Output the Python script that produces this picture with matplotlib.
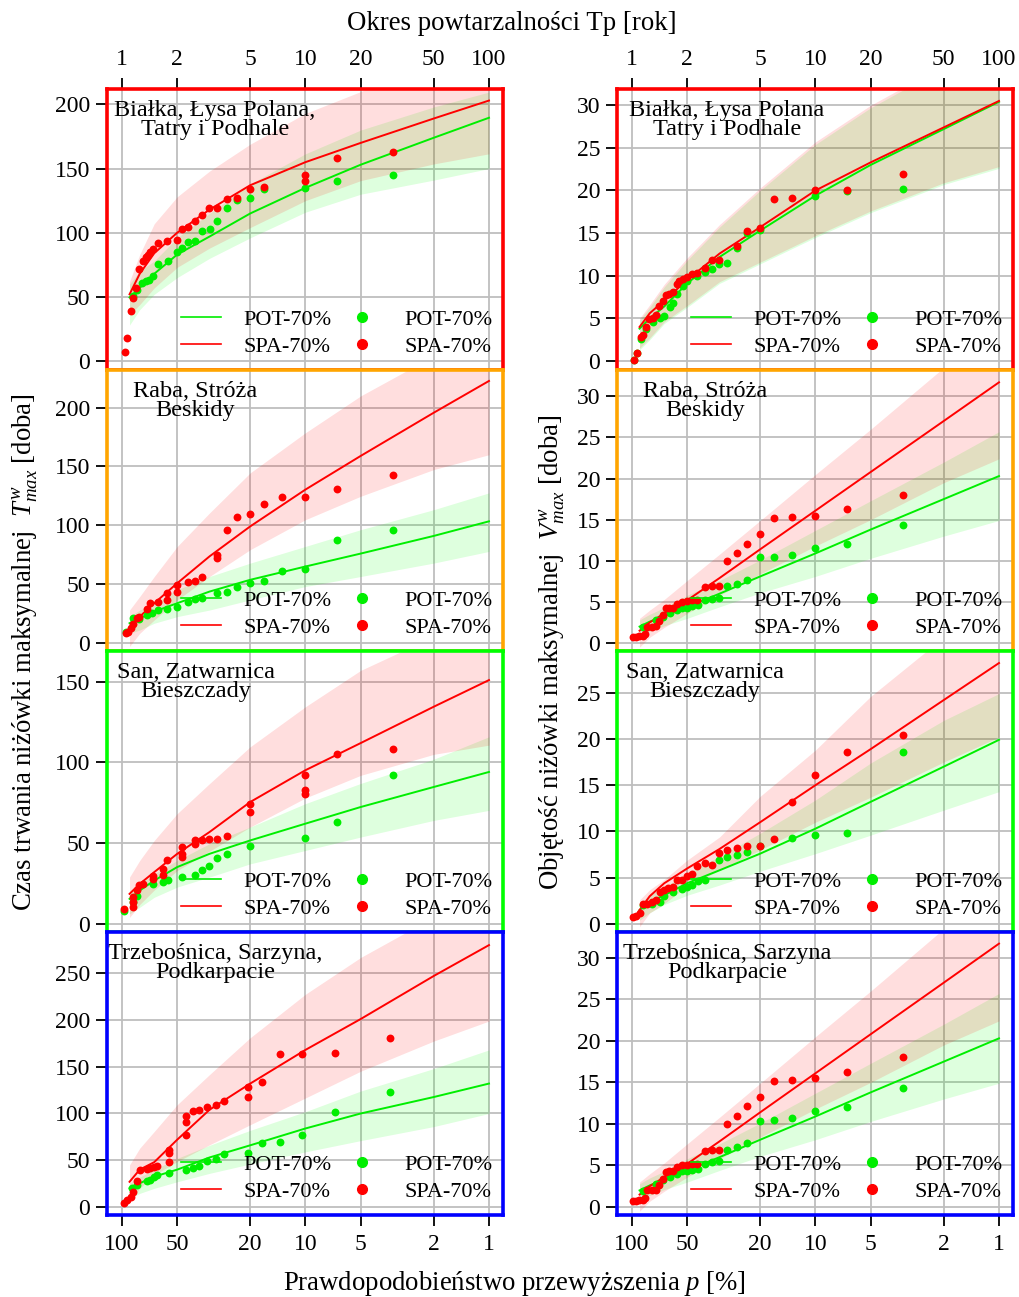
import matplotlib
matplotlib.use('Agg')
import matplotlib.pyplot as plt
from matplotlib.lines import Line2D

plt.rcParams['font.family'] = ['Liberation Serif', 'DejaVu Serif']
plt.rcParams['mathtext.fontset'] = 'custom'
plt.rcParams['mathtext.rm'] = 'Liberation Serif'
plt.rcParams['mathtext.it'] = 'Liberation Serif:italic'

# okresy powtarzalnosci dla krzywych (T, lata)
T_fit = [1.1, 1.25, 1.5, 2, 3, 5, 10, 20, 50, 100]
T_ticks = [1, 2, 5, 10, 20, 50, 100]
top_labels = ['1', '2', '5', '10', '20', '50', '100']
bottom_labels = ['100', '50', '20', '10', '5', '2', '1']

# --- Bialka, Lysa Polana : czas trwania
bialka_T_spa_x = [1.04, 1.07, 1.12, 1.15, 1.20, 1.24, 1.31, 1.35, 1.39, 1.43, 1.48, 1.58, 1.75, 2.0,
                  2.12, 2.3, 2.5, 2.72, 2.99, 3.31, 3.75, 4.22, 4.98, 5.96, 9.94, 9.94, 14.9, 29.8]
bialka_T_spa_y = [7.3, 17.7, 39.1, 49.5, 56.8, 72.1, 78.1, 80.7, 82.8, 84.6, 87.2, 91.9, 93.8, 94.3,
                  102.9, 104.2, 108.9, 114.1, 119.0, 119.0, 126.3, 127.1, 134.1, 135.9, 140.1, 144.8, 158.6, 162.8]
bialka_T_pot_x = [1.15, 1.21, 1.28, 1.35, 1.41, 1.48, 1.58, 1.79, 2.0, 2.12, 2.3, 2.5, 2.72, 3.0,
                  3.31, 3.75, 4.22, 4.98, 5.96, 9.94, 14.9, 29.8]
bialka_T_pot_y = [50.8, 55.2, 60.7, 62.0, 63.0, 66.4, 75.5, 78.1, 84.6, 87.8, 93.0, 93.8, 101.0, 102.9,
                  109.4, 119.3, 125.8, 127.1, 134.1, 134.9, 140.6, 145.3]
bialka_T_spa_fit = [52, 68, 84, 100, 118, 137, 155, 170, 189, 203]
bialka_T_spa_lo = [36, 44, 57, 73, 88, 104, 125, 140.6, 153.6, 161.5]
bialka_T_spa_hi = [62, 83, 107, 128, 148, 169, 193, 210, 235, 250]
bialka_T_pot_fit = [49.5, 57, 68, 83, 97, 115, 135, 153, 174, 189.6]
bialka_T_pot_lo = [28, 40, 52, 65, 80, 96, 116, 130, 141, 150]
bialka_T_pot_hi = [60, 70, 78, 96, 115, 138, 161.5, 180, 198, 209.6]

# --- Bialka, Lysa Polana : objetosc
bialka_V_spa_x = [1.025, 1.06, 1.115, 1.143, 1.192, 1.243, 1.296, 1.351, 1.409, 1.469, 1.532, 1.597,
                  1.665, 1.751, 1.811, 1.888, 1.984, 2.115, 2.271, 2.5, 2.717, 2.99, 3.75, 4.22, 4.98,
                  5.96, 7.43, 9.94, 14.9, 29.8]
bialka_V_spa_y = [0.1, 0.9, 2.8, 3.0, 4.0, 4.9, 5.1, 5.4, 6.5, 7.0, 7.7, 7.9, 8.1, 9.0, 9.4, 9.6, 9.9,
                  10.2, 10.3, 10.9, 11.8, 11.9, 13.5, 15.2, 15.6, 19.0, 19.1, 20.0, 20.1, 21.9]
bialka_V_pot_x = [1.025, 1.06, 1.115, 1.192, 1.296, 1.421, 1.494, 1.611, 1.665, 1.751, 1.888, 2.0,
                  2.271, 2.5, 2.717, 2.99, 3.31, 3.75, 4.22, 4.98, 9.94, 14.9, 29.8]
bialka_V_pot_y = [0.1, 0.9, 2.6, 3.8, 4.6, 5.1, 5.3, 6.3, 6.8, 7.9, 8.8, 9.4, 10.0, 10.5, 10.8, 11.4,
                  11.5, 13.3, 15.0, 15.4, 19.4, 19.9, 20.2]
bialka_V_spa_fit = [4.0, 5.6, 7.1, 9.5, 12.6, 15.7, 20.0, 23.3, 27.4, 30.5]
bialka_V_spa_lo = [1.5, 2.7, 4.6, 6.5, 9.3, 11.6, 14.7, 17.6, 20.9, 22.8]
bialka_V_spa_hi = [5.0, 6.6, 9.0, 12.1, 16.0, 20.3, 25.7, 30.0, 34.7, 37.0]
bialka_V_pot_fit = [3.8, 5.0, 6.4, 9.1, 12.2, 15.3, 19.4, 23.0, 27.2, 30.4]
bialka_V_pot_lo = [1.3, 2.5, 4.4, 6.3, 9.1, 11.4, 14.5, 17.4, 20.7, 22.6]
bialka_V_pot_hi = [4.8, 6.3, 8.7, 11.8, 15.7, 20.0, 25.4, 29.7, 34.4, 36.7]

# --- Raba, Stroza : czas trwania
raba_T_spa_x = [1.051, 1.083, 1.115, 1.153, 1.202, 1.243, 1.363, 1.421, 1.577, 1.751, 1.751, 2.0, 2.0,
                2.297, 2.5, 2.717, 3.31, 3.31, 3.75, 4.22, 4.98, 5.96, 7.43, 9.94, 14.9, 29.8]
raba_T_spa_y = [8.2, 9.6, 12.5, 16.2, 21.0, 22.4, 28.7, 33.8, 35.2, 36.6, 42.3, 43.7, 49.4,
                51.7, 53.1, 56.5, 72.2, 75.0, 96.3, 107.1, 109.9, 118.2, 123.9, 123.9, 131.2, 142.9]
raba_T_pot_x = [1.051, 1.143, 1.243, 1.363, 1.451, 1.577, 1.751, 2.0, 2.297, 2.5, 2.717, 3.31, 3.75,
                4.22, 4.98, 5.96, 7.43, 9.94, 14.9, 29.8]
raba_T_pot_y = [9.6, 21.0, 20.2, 23.9, 25.8, 28.1, 28.7, 30.4, 35.2, 37.2, 38.6, 42.9, 43.7,
                48.0, 50.8, 53.1, 61.4, 62.8, 87.8, 96.3]
raba_T_spa_fit = [12.5, 22.4, 33.8, 50.8, 73.6, 99.1, 130.4, 159, 195.7, 222.7]
raba_T_spa_lo = [-3, 8.2, 19.6, 36.6, 56.5, 79.3, 104.8, 124.7, 147.4, 160]
raba_T_spa_hi = [28, 39.5, 56.5, 82, 110.5, 144.6, 178.7, 210, 244, 275]
raba_T_pot_fit = [16.8, 21.0, 26.7, 33.8, 43.7, 53.7, 65.0, 76.0, 91.0, 103.4]
raba_T_pot_lo = [8.2, 11, 16.8, 22.4, 28, 36.6, 48, 56.5, 67.9, 77.8]
raba_T_pot_hi = [22.4, 28, 33.8, 45.2, 56.5, 67.9, 82.1, 96.3, 113.3, 127.6]

# --- Raba, Stroza : objetosc
raba_V_spa_x = [1.017, 1.051, 1.096, 1.143, 1.177, 1.212, 1.28, 1.351, 1.409, 1.469, 1.532, 1.597,
                1.665, 1.751, 1.865, 1.984, 2.115, 2.271, 2.5, 2.717, 2.99, 3.31, 3.75, 4.22, 4.98,
                5.96, 7.43, 9.94, 14.9, 29.8]
raba_V_spa_y = [0.7, 0.7, 0.8, 0.9, 1.1, 2.0, 2.0, 2.1, 2.7, 3.4, 4.2, 4.3, 4.3, 4.8, 5.0, 5.1, 5.2,
                5.2, 6.8, 6.9, 6.9, 10.0, 10.9, 12.1, 13.2, 15.2, 15.3, 15.5, 16.3, 18.0]
raba_V_pot_x = [1.143, 1.351, 1.469, 1.611, 1.751, 1.865, 1.984, 2.115, 2.297, 2.5, 2.717, 2.99, 3.31,
                3.75, 4.22, 4.98, 5.96, 7.43, 9.94, 14.9, 29.8]
raba_V_pot_y = [1.9, 2.8, 3.2, 3.6, 4.0, 4.3, 4.3, 4.5, 4.6, 5.2, 5.4, 5.5, 6.9, 7.2, 7.7, 10.4,
                10.5, 10.7, 11.5, 12.0, 14.3]
raba_V_spa_fit = [1.5, 2.5, 3.6, 5.2, 7.9, 11.4, 16.1, 20.8, 27.0, 31.7]
raba_V_spa_lo = [-0.5, 0.7, 1.9, 3.6, 5.8, 8.4, 11.8, 15.0, 19.5, 22.4]
raba_V_spa_hi = [3.0, 4.0, 5.3, 7.6, 10.8, 14.9, 20.5, 26.0, 33.5, 39.0]
raba_V_pot_fit = [2.0, 2.6, 3.3, 4.4, 6.0, 8.1, 10.9, 13.8, 17.5, 20.3]
raba_V_pot_lo = [0.8, 1.4, 2.1, 3.0, 4.4, 6.1, 8.1, 10.3, 13.0, 14.9]
raba_V_pot_hi = [2.8, 3.5, 4.3, 5.8, 7.6, 10.1, 13.7, 17.3, 22.0, 25.7]

# --- San, Zatwarnica : czas trwania
san_T_spa_x = [1.025, 1.153, 1.153, 1.153, 1.202, 1.243, 1.296, 1.482, 1.482, 1.665, 1.665, 1.751,
               2.115, 2.115, 2.115, 2.5, 2.5, 2.717, 2.99, 3.31, 3.75, 4.98, 4.98, 9.94, 9.94, 9.94,
               14.9, 29.8]
san_T_spa_y = [9.3, 10.3, 13.4, 16.5, 20.7, 23.8, 24.8, 27.9, 29.4, 30.0, 34.1, 39.7, 41.4, 43.4,
               47.6, 49.7, 51.7, 52.1, 52.8, 52.8, 54.2, 69.3, 74.5, 80.7, 82.8, 92.5, 105.5, 108.2]
san_T_pot_x = [1.025, 1.153, 1.202, 1.482, 1.665, 1.788, 2.115, 2.5, 2.717, 2.99, 3.31, 3.75, 4.98,
               9.94, 14.9, 29.8]
san_T_pot_y = [8.3, 13.4, 17.6, 24.8, 25.9, 27.3, 29.0, 30.0, 33.1, 35.6, 41.0, 43.0, 48.0, 53.2,
               63.1, 92.5]
san_T_spa_fit = [18.6, 24.8, 32.1, 43.4, 56.9, 75.5, 95.2, 112, 134.5, 151]
san_T_spa_lo = [4, 12, 21, 33, 45, 60, 78, 92, 105, 110.7]
san_T_spa_hi = [29, 39.3, 51.7, 68.3, 86.9, 109.7, 134.5, 157, 178, 200]
san_T_pot_fit = [15.5, 20.7, 26.9, 35.2, 43.4, 51.7, 62.1, 72.4, 84.8, 94.1]
san_T_pot_lo = [6.2, 10.3, 16.5, 22.8, 29, 37.2, 45.5, 53.8, 64.1, 70.3]
san_T_pot_hi = [18.6, 24.8, 31, 39.3, 49.7, 60, 74.5, 87, 102, 115.9]

# --- San, Zatwarnica : objetosc
san_V_spa_x = [1.017, 1.051, 1.105, 1.143, 1.212, 1.28, 1.351, 1.421, 1.494, 1.577, 1.665, 1.751,
               1.865, 1.984, 2.115, 2.271, 2.5, 2.717, 2.99, 3.31, 3.75, 4.22, 4.98, 5.96, 7.43, 9.94,
               14.9, 29.8]
san_V_spa_y = [0.8, 0.9, 1.2, 2.2, 2.2, 2.4, 2.6, 3.4, 3.7, 3.9, 4.0, 4.8, 4.8, 5.2, 5.4, 6.3, 6.6,
               6.4, 7.7, 8.0, 8.2, 8.4, 8.4, 9.2, 13.2, 16.1, 18.6, 20.4]
san_V_pot_x = [1.143, 1.28, 1.421, 1.494, 1.665, 1.865, 1.984, 2.115, 2.297, 2.5, 2.99, 3.31, 3.75,
               4.22, 4.98, 7.43, 9.94, 14.9, 29.8]
san_V_pot_y = [2.1, 2.2, 2.4, 3.0, 3.4, 3.8, 4.0, 4.2, 4.6, 4.8, 6.9, 7.2, 7.4, 7.8, 8.4, 9.3, 9.6,
               9.8, 18.6]
san_V_spa_fit = [1.5, 3.0, 4.4, 6.0, 8.1, 11.0, 15.0, 18.9, 24.2, 28.2]
san_V_spa_lo = [-0.3, 1.2, 2.2, 4.1, 5.8, 8.0, 11.0, 13.7, 17.5, 20.2]
san_V_spa_hi = [2.6, 3.7, 4.8, 6.9, 9.4, 13.8, 18.8, 24.6, 31, 36]
san_V_pot_fit = [1.5, 2.4, 3.1, 4.4, 5.8, 7.6, 10.3, 13.2, 17.0, 19.9]
san_V_pot_lo = [0.4, 1.2, 2.1, 3.1, 4.2, 5.7, 7.6, 9.6, 12.3, 14.3]
san_V_pot_hi = [2.2, 3.1, 4.0, 5.5, 7.3, 9.8, 13.4, 17.4, 22.0, 24.9]

# --- Trzebosnica, Sarzyna : czas trwania
trzeb_T_spa_x = [1.025, 1.069, 1.115, 1.153, 1.202, 1.253, 1.363, 1.421, 1.494, 1.558, 1.811, 1.811,
                 1.811, 2.231, 2.231, 2.231, 2.427, 2.638, 2.915, 3.24, 3.61, 4.84, 4.84, 5.8, 7.26,
                 9.62, 14.5, 28.9]
trzeb_T_spa_y = [3.9, 7.5, 11.0, 15.7, 27.9, 39.7, 40.7, 41.5, 43.2, 44.3, 47.9, 57.6, 61.1, 76.5,
                 90.8, 96.9, 102.3, 104.1, 106.6, 108.7, 113.0, 117.3, 128.0, 133.7, 163.1, 163.8,
                 164.9, 181.0]
trzeb_T_pot_x = [1.129, 1.202, 1.363, 1.421, 1.494, 1.545, 1.811, 2.231, 2.427, 2.638, 2.915, 3.24,
                 3.61, 4.84, 5.8, 7.26, 9.62, 14.5, 28.9]
trzeb_T_pot_y = [20.0, 23.6, 27.9, 28.9, 32.5, 34.3, 36.1, 39.7, 41.5, 44.3, 49.3, 51.1, 56.5, 58.3,
                 68.3, 69.4, 76.5, 101.2, 122.7]
trzeb_T_spa_fit = [27, 40, 48, 72, 104, 132, 168, 201, 247, 280]
trzeb_T_spa_lo = [5.7, 20, 34.3, 48.6, 66.5, 88, 116.6, 145.2, 177.4, 198.8]
trzeb_T_spa_hi = [45, 62.9, 80.8, 109.4, 141.6, 181, 227.5, 266.8, 310, 367]
trzeb_T_pot_fit = [20, 25.4, 32.5, 40, 53, 66, 84, 100, 117.6, 132]
trzeb_T_pot_lo = [9, 14.6, 20, 27, 36, 46, 59, 71, 86, 100]
trzeb_T_pot_hi = [25.4, 32, 40, 52, 66, 82, 102, 124, 148, 168]

# --- Trzebosnica, Sarzyna : objetosc (na oryginale identyczne jak Raba)
trzeb_V_spa_x, trzeb_V_spa_y = raba_V_spa_x, raba_V_spa_y
trzeb_V_pot_x, trzeb_V_pot_y = raba_V_pot_x, raba_V_pot_y
trzeb_V_spa_fit, trzeb_V_spa_lo, trzeb_V_spa_hi = raba_V_spa_fit, raba_V_spa_lo, raba_V_spa_hi
trzeb_V_pot_fit, trzeb_V_pot_lo, trzeb_V_pot_hi = raba_V_pot_fit, raba_V_pot_lo, raba_V_pot_hi

RED = '#FF0000'
GREEN = '#00EE00'
GRID = '#BEBEBE'
FS = 17

panels = [
    # (row, col, label, label_x, frame, ylim, yticks, data)
    (0, 0, 'Białka, Łysa Polana,\nTatry i Podhale', 0.273, '#FF0000', (-7, 212), range(0, 201, 50),
     (bialka_T_spa_x, bialka_T_spa_y, bialka_T_pot_x, bialka_T_pot_y, bialka_T_spa_fit, bialka_T_spa_lo,
      bialka_T_spa_hi, bialka_T_pot_fit, bialka_T_pot_lo, bialka_T_pot_hi)),
    (0, 1, 'Białka, Łysa Polana\nTatry i Podhale', 0.278, '#FF0000', (-1.05, 31.9), range(0, 31, 5),
     (bialka_V_spa_x, bialka_V_spa_y, bialka_V_pot_x, bialka_V_pot_y, bialka_V_spa_fit, bialka_V_spa_lo,
      bialka_V_spa_hi, bialka_V_pot_fit, bialka_V_pot_lo, bialka_V_pot_hi)),
    (1, 0, 'Raba, Stróża\nBeskidy', 0.222, '#FFA500', (-6.8, 232), range(0, 201, 50),
     (raba_T_spa_x, raba_T_spa_y, raba_T_pot_x, raba_T_pot_y, raba_T_spa_fit, raba_T_spa_lo,
      raba_T_spa_hi, raba_T_pot_fit, raba_T_pot_lo, raba_T_pot_hi)),
    (1, 1, 'Raba, Stróża\nBeskidy', 0.222, '#FFA500', (-0.97, 33.2), range(0, 31, 5),
     (raba_V_spa_x, raba_V_spa_y, raba_V_pot_x, raba_V_pot_y, raba_V_spa_fit, raba_V_spa_lo,
      raba_V_spa_hi, raba_V_pot_fit, raba_V_pot_lo, raba_V_pot_hi)),
    (2, 0, 'San, Zatwarnica\nBieszczady', 0.225, '#00FF00', (-5, 169), range(0, 151, 50),
     (san_T_spa_x, san_T_spa_y, san_T_pot_x, san_T_pot_y, san_T_spa_fit, san_T_spa_lo,
      san_T_spa_hi, san_T_pot_fit, san_T_pot_lo, san_T_pot_hi)),
    (2, 1, 'San, Zatwarnica\nBieszczady', 0.222, '#00FF00', (-0.87, 29.5), range(0, 26, 5),
     (san_V_spa_x, san_V_spa_y, san_V_pot_x, san_V_pot_y, san_V_spa_fit, san_V_spa_lo,
      san_V_spa_hi, san_V_pot_fit, san_V_pot_lo, san_V_pot_hi)),
    (3, 0, 'Trzebośnica, Sarzyna,\nPodkarpacie', 0.273, '#0000FF', (-8.5, 294), range(0, 251, 50),
     (trzeb_T_spa_x, trzeb_T_spa_y, trzeb_T_pot_x, trzeb_T_pot_y, trzeb_T_spa_fit, trzeb_T_spa_lo,
      trzeb_T_spa_hi, trzeb_T_pot_fit, trzeb_T_pot_lo, trzeb_T_pot_hi)),
    (3, 1, 'Trzebośnica, Sarzyna\nPodkarpacie', 0.278, '#0000FF', (-0.96, 33.1), range(0, 31, 5),
     (trzeb_V_spa_x, trzeb_V_spa_y, trzeb_V_pot_x, trzeb_V_pot_y, trzeb_V_spa_fit, trzeb_V_spa_lo,
      trzeb_V_spa_hi, trzeb_V_pot_fit, trzeb_V_pot_lo, trzeb_V_pot_hi)),
]

W, H = 1019, 1297
fig = plt.figure(figsize=(W / 100, H / 100), dpi=100)

col_left = [107, 617]
row_top = [89, 370, 651, 932]
row_bot = [370, 651, 932, 1215]
ax_w = 396

for row, col, label, lx, frame, ylim, yticks, d in panels:
    spa_x, spa_y, pot_x, pot_y, spa_fit, spa_lo, spa_hi, pot_fit, pot_lo, pot_hi = d
    ax = fig.add_axes([col_left[col] / W, 1 - row_bot[row] / H, ax_w / W,
                       (row_bot[row] - row_top[row]) / H])
    ax.set_xscale('log')
    ax.set_xlim(0.829, 119.2)
    ax.set_ylim(*ylim)
    ax.set_xticks(T_ticks)
    ax.minorticks_off()
    ax.set_yticks(list(yticks))
    ax.grid(True, color=GRID, lw=1.3)
    ax.set_axisbelow(True)

    ax.fill_between(T_fit, pot_lo, pot_hi, color='#00FF00', alpha=0.13, lw=0)
    ax.fill_between(T_fit, spa_lo, spa_hi, color='#FF0000', alpha=0.13, lw=0)
    ax.plot(T_fit, pot_fit, color=GREEN, lw=1.4)
    ax.plot(T_fit, spa_fit, color=RED, lw=1.4)
    ax.scatter(pot_x, pot_y, s=32, color=GREEN, lw=0, zorder=3)
    ax.scatter(spa_x, spa_y, s=32, color=RED, lw=0, zorder=3)

    ax.text(lx, 0.962, label, transform=ax.transAxes, ha='center', va='top',
            multialignment='center', fontsize=17.5, linespacing=0.9)

    handles = [Line2D([], [], color=GREEN, lw=1.2), Line2D([], [], color=RED, lw=1.2),
               Line2D([], [], color=GREEN, ls='', marker='o', ms=7),
               Line2D([], [], color=RED, ls='', marker='o', ms=7)]
    ax.legend(handles, ['POT-70%', 'SPA-70%', 'POT-70%', 'SPA-70%'], ncol=2, loc='lower right',
              bbox_to_anchor=(1.008, 0.0), frameon=False, fontsize=16, handlelength=1.8,
              handletextpad=1.0, columnspacing=0.5, labelspacing=0.28, borderaxespad=0.3,
              borderpad=0.3)

    for sp in ax.spines.values():
        sp.set_color(frame)
        sp.set_linewidth(2.6)
        sp.set_zorder(5)

    ax.tick_params(axis='y', direction='out', length=8, width=1.3, labelsize=FS, pad=4)
    if row == 3:
        ax.set_xticklabels(bottom_labels)
        ax.tick_params(axis='x', direction='out', length=8, width=1.3, labelsize=FS, pad=6)
    else:
        ax.tick_params(axis='x', bottom=False, labelbottom=False)
    if row == 0:
        sec = ax.secondary_xaxis('top')
        sec.set_xticks(T_ticks)
        sec.set_xticklabels(top_labels)
        sec.minorticks_off()
        sec.tick_params(direction='out', length=8, width=1.3, labelsize=FS, pad=6)
        sec.spines['top'].set_visible(False)

fig.text(512 / W, 1 - 23 / H, 'Okres powtarzalności Tp [rok]', ha='center', va='center', fontsize=19.3)
fig.text(514 / W, 1 - 1283 / H, 'Prawdopodobieństwo przewyższenia $p$ [%]', ha='center',
         va='center', fontsize=19.3)
fig.text(25 / W, 1 - 652 / H, 'Czas trwania niżówki maksymalnej  $T^{w}_{max}$ [doba]', rotation=90,
         ha='center', va='center', fontsize=19.3)
fig.text(552 / W, 1 - 652 / H, 'Objętość niżówki maksymalnej  $V^{w}_{max}$ [doba]', rotation=90,
         ha='center', va='center', fontsize=19.3)

fig.savefig('out.png', dpi=100)
